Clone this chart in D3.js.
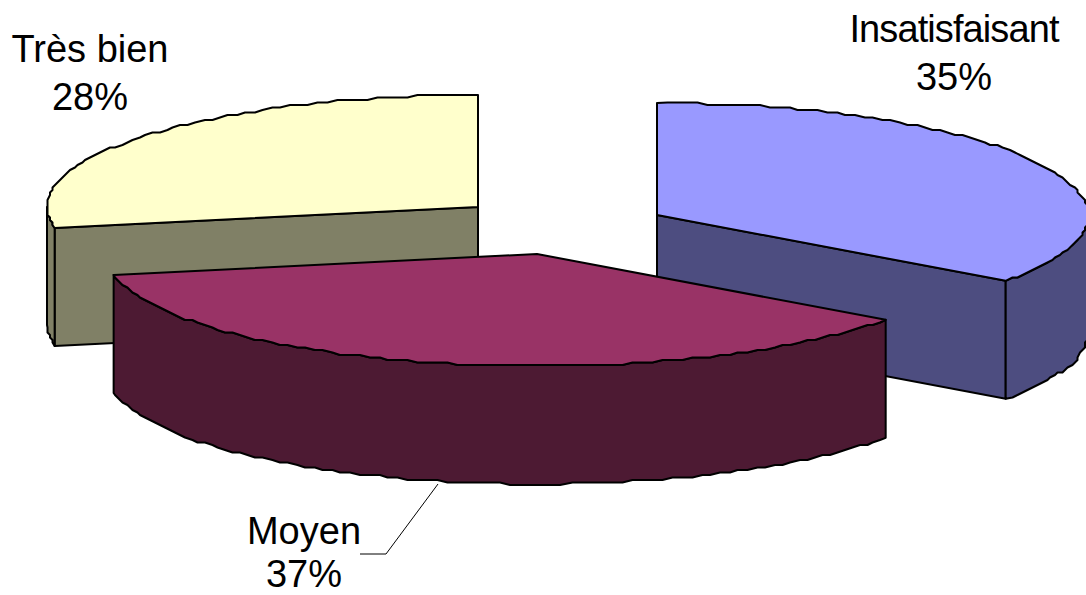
<!DOCTYPE html>
<html>
<head>
<meta charset="utf-8">
<script src="https://cdn.jsdelivr.net/npm/d3@7"></script>
<style>
html, body { margin: 0; padding: 0; background: #fff; }
svg { display: block; }
text { font-family: "Liberation Sans", Arial, sans-serif; font-size: 38px; fill: #000; text-anchor: middle; }
</style>
</head>
<body>
<svg id="chart" width="1086" height="595"></svg>
<script>
const categories = ["Insatisfaisant", "Moyen", "Très bien"];
const values = [35, 37, 28];
const topColors = ["#9999ff", "#993366", "#ffffcc"];
const sideColors = ["#4d4d80", "#4d1a33", "#808066"];

// layout of the exploded slices
const centers = [[657, 215], [537, 254], [478, 207]];
const labelPos = [[954, 42], [304, 544], [90, 62]];
const labelSpacing = [-0.9, 0, 0];
const rx = 431, ry = 112, depth = 118;
const lineGap = 48;
const angleStep = 0.024; // arc is a coarse polyline in the original
const grid = 2.5; // and its points sit on a coarse grid, hence the bumpy edge

const svg = d3.select("#chart");
const line = d3.line();
const slices = d3.pie().sort(null).value(d => d)(values);

function arcPoint(i, t, dy){
    let sx = d3.scaleLinear().domain([-1, 1]).range([centers[i][0] - rx, centers[i][0] + rx]);
    let sy = d3.scaleLinear().domain([-1, 1]).range([centers[i][1] + ry + dy, centers[i][1] - ry + dy]);
    return [sx(Math.sin(t)), sy(Math.cos(t))];
}

function arcPoints(i, a0, a1, dy){
    let n = Math.ceil(Math.abs(a1 - a0) / angleStep);
    let pts = [];
    for(let k = 0; k <= n; k++){
        let p = arcPoint(i, a0 + (a1 - a0) * k / n, dy);
        if(k == 0 || k == n){
            pts.push(p);
        }else{
            pts.push([Math.round(p[0] / grid) * grid, Math.round(p[1] / grid) * grid]);
        }
    }
    return pts;
}

function shape(points, fill){
    svg.append("path")
        .attr("d", line(points) + "Z")
        .attr("fill", fill)
        .attr("stroke", "#000")
        .attr("stroke-width", 2)
        .attr("stroke-linejoin", "round");
}

function drawSlice(i){
    let s = slices[i];
    let c = centers[i];
    let a0 = s.startAngle, a1 = s.endAngle;

    // flat cut walls that face the viewer
    if(i == 0 || i == 2){
        let p = arcPoint(i, i == 0 ? a1 : a0, 0);
        shape([c, p, [p[0], p[1] + depth], [c[0], c[1] + depth]], sideColors[i]);
    }

    // outer wall, lower half of the ellipse only
    let w0 = Math.max(a0, Math.PI / 2), w1 = Math.min(a1, Math.PI * 1.5);
    if(w1 > w0){
        let upper = arcPoints(i, w0, w1, 0);
        let lower = arcPoints(i, w1, w0, depth);
        shape(upper.concat(lower), sideColors[i]);
    }

    // top face
    shape([c].concat(arcPoints(i, a0, a1, 0)), topColors[i]);
}

// back slices first, the front one covers them
[2, 0, 1].forEach(drawSlice);

// leader line of the front label
svg.append("polyline")
    .attr("points", "360,554 386,554 438,484")
    .attr("fill", "none")
    .attr("stroke", "#000")
    .attr("stroke-width", 1);

categories.forEach((name, i) => {
    svg.append("text").attr("x", labelPos[i][0]).attr("y", labelPos[i][1])
        .style("letter-spacing", labelSpacing[i] + "px").text(name);
    svg.append("text").attr("x", labelPos[i][0]).attr("y", Math.min(labelPos[i][1] + lineGap, 587)).text(values[i] + "%");
});
</script>
</body>
</html>
